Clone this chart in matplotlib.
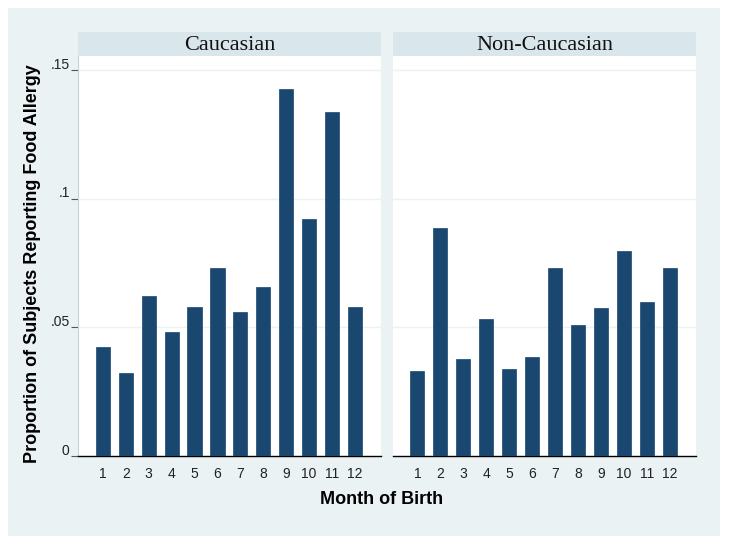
import matplotlib
matplotlib.use("Agg")
import matplotlib.pyplot as plt
import matplotlib.transforms as mtransforms
from matplotlib.patches import Rectangle

months = [1, 2, 3, 4, 5, 6, 7, 8, 9, 10, 11, 12]
month_labels = [str(m) for m in months]
panels = ["Caucasian", "Non-Caucasian"]
caucasian = [0.0422, 0.0321, 0.0622, 0.0482, 0.0580, 0.0729, 0.0561, 0.0658, 0.1425, 0.0922, 0.1338, 0.0580]
non_caucasian = [0.0332, 0.0887, 0.0376, 0.0534, 0.0337, 0.0384, 0.0729, 0.0508, 0.0575, 0.0798, 0.0600, 0.0732]
yticks = [0, 0.05, 0.10, 0.15]
ytick_labels = ["0", ".05", ".1", ".15"]

BAR = "#1a476f"
BG = "#eaf2f3"
STRIP = "#d9e6eb"
W, H = 729, 544

fig = plt.figure(figsize=(W / 100, H / 100), dpi=100)
fig.patch.set_facecolor("white")
fig.patches.append(Rectangle((8 / W, 1 - 536 / H), 712 / W, 528 / H,
                             transform=fig.transFigure, facecolor=BG,
                             edgecolor="none", zorder=-10))

def px_axes(x0, y0, x1, y1):
    return [x0 / W, 1 - y1 / H, (x1 - x0) / W, (y1 - y0) / H]

series = [caucasian, non_caucasian]
lefts = [78, 393]
rights = [381, 696]
xlims = [(-0.09, 13.14), (-0.06, 13.13)]

for i in range(2):
    ax = fig.add_axes(px_axes(lefts[i], 56, rights[i], 456))
    ax.set_facecolor("white")
    ax.bar(months, series[i], width=0.62, color=BAR, edgecolor=BAR, linewidth=0.5, zorder=3)
    ax.set_xlim(*xlims[i])
    ax.set_ylim(0, 0.15544)
    ax.set_yticks(yticks)
    for y in yticks[1:]:
        ax.axhline(y, color=BG, linewidth=1.0, zorder=1)
    ax.set_xticks(months)
    ax.set_xticklabels(month_labels, fontsize=10, family="Liberation Sans", color="#222222")
    ax.tick_params(axis="x", length=0, pad=8)
    for s in ["top", "right"]:
        ax.spines[s].set_visible(False)
    ax.spines["bottom"].set_color("black")
    ax.spines["bottom"].set_linewidth(1.0)
    if i == 0:
        ax.set_yticklabels(ytick_labels, fontsize=10, family="Liberation Sans", color="#222222")
        ax.tick_params(axis="y", length=5, width=0.8, color="#555555", pad=1)
        ax.spines["left"].set_color("#c8d2d6")
        ax.spines["left"].set_linewidth(0.8)
        off = mtransforms.ScaledTranslation(0, 5 / 72, fig.dpi_scale_trans)
        for lab in ax.get_yticklabels():
            lab.set_transform(lab.get_transform() + off)
    else:
        ax.spines["left"].set_visible(False)
        ax.tick_params(axis="y", left=False, labelleft=False)

    sax = fig.add_axes(px_axes(lefts[i], 32, rights[i], 56))
    sax.set_facecolor(STRIP)
    sax.set_xticks([])
    sax.set_yticks([])
    for s in sax.spines.values():
        s.set_visible(False)
    sax.text(0.5, 0.42, panels[i], ha="center", va="center", fontsize=16,
             family="Liberation Serif", color="#111111", transform=sax.transAxes)

fig.text(33 / W, 1 - 264 / H, "Proportion of Subjects Reporting Food Allergy",
         rotation=90, ha="center", va="center", fontsize=13, fontweight="bold",
         family="Liberation Sans", color="black")
fig.text(381.5 / W, 1 - 500 / H, "Month of Birth", ha="center", va="center",
         fontsize=13, fontweight="bold", family="Liberation Sans", color="black")

fig.savefig("out.png", dpi=100, facecolor="white")
